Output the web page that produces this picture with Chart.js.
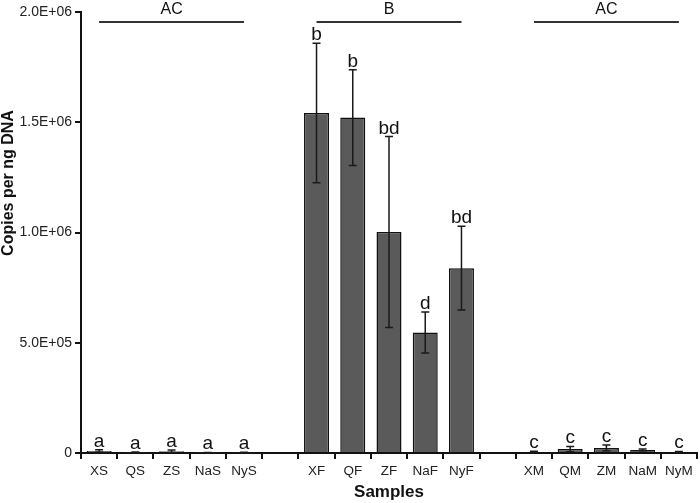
<!DOCTYPE html>
<html>
<head>
<meta charset="utf-8">
<script src="https://cdn.jsdelivr.net/npm/chart.js@4/dist/chart.umd.min.js"></script>
<style>
  html, body { margin: 0; padding: 0; background: #fff; }
  #wrap { width: 700px; height: 503px; }
</style>
</head>
<body>
<div id="wrap"><canvas id="myChart"></canvas></div>
<script>
// samples (empty strings are the gaps between the three groups)
const samples = ['XS','QS','ZS','NaS','NyS','','XF','QF','ZF','NaF','NyF','','XM','QM','ZM','NaM','NyM'];
const copies = [9000, 2500, 8000, 1500, 2000, null, 1542000, 1521000, 1002000, 546000, 838000, null, 5000, 18000, 23000, 14000, 5000];
const errs = [6000, 1500, 6000, 1000, 1000, null, 316000, 217000, 433000, 93000, 190000, null, 3000, 12000, 13000, 4000, 2000];
const letters = ['a','a','a','a','a','','b','b','bd','d','bd','','c','c','c','c','c'];
const groupNames = ['AC','B','AC'];
const groupFirst = [0, 6, 12];
const groupLast = [4, 10, 16];
const yTicks = [0, 500000, 1000000, 1500000, 2000000];

const FONT = 'Liberation Sans, Arial, sans-serif';

function sci(v) {
  if (v === 0) return '0';
  const e = Math.floor(Math.log10(v));
  const m = (v / Math.pow(10, e)).toFixed(1);
  return m + 'E+' + String(e).padStart(2, '0');
}

// error bars + significance letters + group brackets + y title (sits above centre in the original)
const extras = {
  id: 'extras',
  afterDatasetsDraw(chart) {
    const ctx = chart.ctx;
    const xs = chart.scales.x, ys = chart.scales.y;
    const meta = chart.getDatasetMeta(0);
    ctx.save();
    ctx.strokeStyle = '#1a1a1a';
    ctx.lineWidth = 1.5;
    ctx.fillStyle = '#111';
    ctx.font = '19px ' + FONT;
    ctx.textAlign = 'center';
    ctx.textBaseline = 'alphabetic';
    copies.forEach((v, i) => {
      if (v === null) return;
      const x = meta.data[i].x;
      const top = ys.getPixelForValue(v + errs[i]);
      const bot = ys.getPixelForValue(Math.max(0, v - errs[i]));
      ctx.beginPath();
      ctx.moveTo(x, top); ctx.lineTo(x, bot);
      ctx.moveTo(x - 4, top); ctx.lineTo(x + 4, top);
      ctx.moveTo(x - 4, bot); ctx.lineTo(x + 4, bot);
      ctx.stroke();
      ctx.fillText(letters[i], x, top - 3);
    });
    ctx.strokeStyle = '#333';
    ctx.lineWidth = 2;
    ctx.font = '16px ' + FONT;
    ctx.textBaseline = 'middle';
    groupNames.forEach((g, k) => {
      const x1 = xs.getPixelForValue(groupFirst[k]);
      const x2 = xs.getPixelForValue(groupLast[k]);
      ctx.beginPath();
      ctx.moveTo(x1, 22); ctx.lineTo(x2, 22);
      ctx.stroke();
      ctx.fillText(g, (x1 + x2) / 2, 10);
    });
    ctx.translate(9, 183);
    ctx.rotate(-Math.PI / 2);
    ctx.font = 'bold 16px ' + FONT;
    ctx.fillText('Copies per ng DNA', 0, 0);
    ctx.restore();
  }
};

new Chart(document.getElementById('myChart'), {
  type: 'bar',
  data: {
    labels: samples,
    datasets: [{
      data: copies,
      backgroundColor: '#5a5a5a',
      borderColor: '#111',
      borderWidth: 1.5,
      barPercentage: 0.69,
      categoryPercentage: 1
    }]
  },
  options: {
    responsive: true,
    maintainAspectRatio: false,
    animation: false,
    layout: { padding: { top: 12, right: 3, left: 0, bottom: 0 } },
    plugins: { legend: { display: false }, tooltip: { enabled: false } },
    scales: {
      x: {
        grid: { offset: true, drawOnChartArea: false, tickLength: 6, color: '#111', lineWidth: 2 },
        border: { color: '#111', width: 2 },
        ticks: { autoSkip: false, maxRotation: 0, padding: 4, color: '#222', font: { family: FONT, size: 13.5 } },
        title: { display: true, text: 'Samples', color: '#111', padding: 0, font: { family: FONT, size: 17, weight: 'bold' } },
        afterFit(s) { s.height = 50; }
      },
      y: {
        min: 0,
        max: 2000000,
        afterBuildTicks(s) { s.ticks = yTicks.map(v => ({ value: v })); },
        grid: { drawOnChartArea: false, tickLength: 6, color: '#111', lineWidth: 2 },
        border: { color: '#111', width: 2 },
        ticks: { padding: 3, color: '#222', font: { family: FONT, size: 14 }, callback: v => sci(v) },
        afterFit(s) { s.width = 81; }
      }
    }
  },
  plugins: [extras]
});
</script>
</body>
</html>
